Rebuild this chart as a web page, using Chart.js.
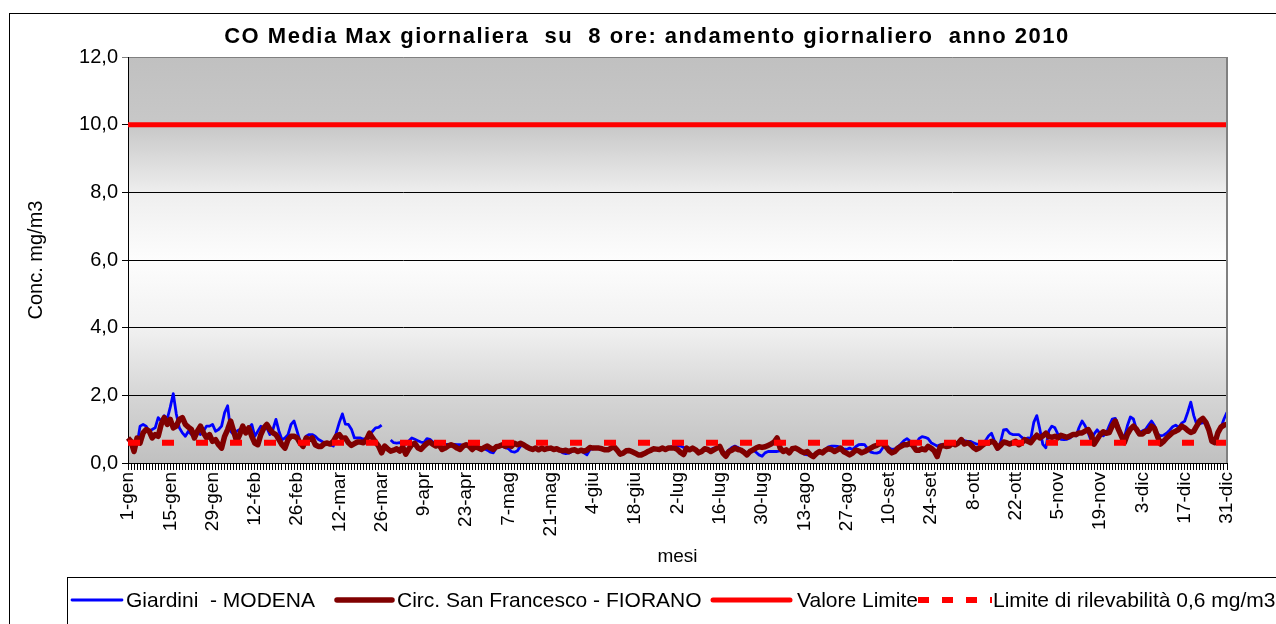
<!DOCTYPE html>
<html>
<head>
<meta charset="utf-8">
<title>CO Media Max giornaliera su 8 ore - 2010</title>
<script src="https://cdn.jsdelivr.net/npm/chart.js@4.4.0/dist/chart.umd.min.js"></script>
<style>
  html, body { margin: 0; padding: 0; background: #fff; }
</style>
</head>
<body>
<canvas id="coChart" width="1276" height="624"></canvas>
<script>
// Categories: every day of 2010, tick label shown every 14 days
const monthNames = ['gen', 'feb', 'mar', 'apr', 'mag', 'giu', 'lug', 'ago', 'set', 'ott', 'nov', 'dic'];
const monthDays = [31, 28, 31, 30, 31, 30, 31, 31, 30, 31, 30, 31];
const labelStep = 14;

const dayLabels = [];
monthNames.forEach((m, i) => {
  for (let d = 1; d <= monthDays[i]; d++) dayLabels.push(d + '-' + m);
});

// Giardini - MODENA (mg/m3), null = missing day
const giardini = [
  0.7, 0.6, 0.5, 0.54, 1.09, 1.14, 1.09, 0.94, 0.99, 1.04,
  1.34, 1.24, 1.4, 1.3, 1.65, 2.05, 1.45, 1.04, 0.89, 0.79,
  0.94, 0.84, 0.84, 0.94, 0.84, 0.94, 1.09, 1.09, 1.14, 0.94,
  0.99, 1.09, 1.49, 1.69, 0.94, 0.84, 0.94, 0.99, 1.04, 0.94,
  1.04, 1.14, 0.79, 0.94, 1.09, 0.99, 1.04, 0.84, 0.99, 1.29,
  0.94, 0.69, 0.74, 0.84, 1.14, 1.24, 0.94, 0.64, 0.59, 0.79,
  0.84, 0.84,
  0.79, 0.7, 0.65, 0.6, 0.57, 0.54, 0.5, 0.9, 1.2, 1.45,
  1.15, 1.14, 1.0, 0.74, 0.74, 0.74, 0.7, 0.74, 0.84, 0.94,
  1.04, 1.05, 1.12, null, null, 0.68, 0.6, 0.59, 0.6, 0.56,
  0.55, 0.65, 0.74, 0.7, 0.66, 0.62, 0.6, 0.72, 0.7, 0.62,
  0.6, 0.57, 0.56, 0.55, 0.55, 0.55, 0.55, 0.54, 0.54, 0.52,
  0.54, 0.54, 0.52, 0.5, 0.48, 0.45, 0.42, 0.38, 0.32, 0.3,
  0.45,
  0.48, 0.5, 0.45, 0.42, 0.34, 0.32, 0.36, 0.5, 0.52, 0.49,
  0.45, 0.42, 0.42, 0.4, 0.42, 0.4, 0.42, 0.42, 0.4, 0.4,
  0.36, 0.3, 0.28, 0.29, 0.34, 0.38, 0.34, 0.36, 0.3, 0.24,
  0.4, 0.42, 0.44, 0.42, 0.4, 0.38, 0.38, 0.42, 0.46, 0.4,
  0.3, 0.3, 0.34, 0.35, 0.32, 0.3, 0.26, 0.26, 0.3, 0.34,
  0.38, 0.4, 0.4, 0.42, 0.44, 0.42, 0.45, 0.48, 0.5, 0.52,
  0.5, 0.46,
  0.44, 0.42, 0.44, 0.4, 0.34, 0.36, 0.42, 0.42, 0.4, 0.44,
  0.44, 0.46, 0.34, 0.28, 0.38, 0.46, 0.5, 0.46, 0.4, 0.36,
  0.3, 0.36, 0.38, 0.32, 0.24, 0.2, 0.3, 0.34, 0.34, 0.34,
  0.34, 0.36, 0.36, 0.38, 0.34, 0.4, 0.42, 0.38, 0.32, 0.26,
  0.24, 0.24, 0.24, 0.3, 0.34, 0.32, 0.4, 0.48, 0.5, 0.5,
  0.49, 0.46, 0.42, 0.4, 0.44, 0.4, 0.48, 0.54, 0.55, 0.54,
  0.42,
  0.32, 0.3, 0.29, 0.32, 0.45, 0.5, 0.45, 0.4, 0.42, 0.48,
  0.56, 0.66, 0.72, 0.65, 0.45, 0.55, 0.72, 0.78, 0.76, 0.72,
  0.6, 0.55, 0.5, 0.54, 0.54, 0.54, 0.54, 0.54, 0.54, 0.62,
  0.69, 0.66, 0.64, 0.64, 0.6, 0.56, 0.56, 0.6, 0.66, 0.8,
  0.88, 0.65, 0.4, 0.62, 0.98, 0.99, 0.88, 0.84, 0.84, 0.84,
  0.76, 0.7, 0.74, 0.72, 1.2, 1.4, 1.0, 0.55, 0.45, 0.95,
  1.09,
  1.04, 0.85, 0.7, 0.69, 0.7, 0.74, 0.82, 0.8, 1.05, 1.24,
  1.1, 0.9, 0.66, 0.86, 0.98, 0.86, 0.8, 0.88, 1.1, 1.3,
  1.32, 1.09, 0.85, 0.76, 1.1, 1.36, 1.3, 1.0, 0.9, 0.95,
  0.99, 1.12, 1.24, 1.1, 0.86, 0.8, 0.82, 0.88, 0.97, 1.07,
  1.12, 1.05, 1.18, 1.24, 1.5, 1.8, 1.4, 1.14, 1.16, 1.19,
  1.19, 0.94, 0.68, 0.64, 0.84, 1.05, 1.3, 1.5
];

// Circ. San Francesco - FIORANO (mg/m3)
const fiorano = [
  0.74, 0.64, 0.34, 0.74, 0.59, 0.89, 0.99, 0.94, 0.74, 0.84,
  0.79, 1.14, 1.34, 1.14, 1.29, 1.04, 1.09, 1.29, 1.34, 1.14,
  1.06, 0.99, 0.74, 0.94, 1.09, 0.89, 0.74, 0.84, 0.64, 0.69,
  0.54, 0.44, 0.79, 0.99, 1.24, 0.94, 0.64, 0.84, 1.09, 0.89,
  1.04, 0.79, 0.59, 0.54, 0.84, 1.04, 1.14, 0.99, 0.89, 0.84,
  0.69, 0.54, 0.44, 0.69, 0.79, 0.79, 0.74, 0.59, 0.49, 0.74,
  0.69, 0.74,
  0.54, 0.49, 0.49, 0.57, 0.59, 0.56, 0.64, 0.79, 0.84, 0.72,
  0.74, 0.6, 0.52, 0.57, 0.62, 0.62, 0.6, 0.69, 0.88, 0.74,
  0.62, 0.5, 0.3, 0.5, 0.42, 0.35, 0.38, 0.42, 0.35, 0.48,
  0.26, 0.42, 0.54, 0.58, 0.45, 0.4, 0.5, 0.58, 0.62, 0.55,
  0.5, 0.54, 0.4, 0.44, 0.5, 0.54, 0.5, 0.44, 0.4, 0.5,
  0.54, 0.5, 0.4, 0.48, 0.45, 0.4, 0.46, 0.5, 0.44, 0.4,
  0.48,
  0.5, 0.54, 0.49, 0.54, 0.49, 0.58, 0.54, 0.58, 0.54, 0.48,
  0.43, 0.4, 0.44, 0.39, 0.44, 0.4, 0.43, 0.44, 0.4, 0.42,
  0.38, 0.36, 0.38, 0.34, 0.38, 0.39, 0.34, 0.38, 0.35, 0.38,
  0.46, 0.44, 0.44, 0.44, 0.42, 0.39, 0.39, 0.44, 0.48, 0.38,
  0.26, 0.29, 0.36, 0.37, 0.33, 0.29, 0.24, 0.24, 0.28, 0.33,
  0.37, 0.42, 0.41, 0.4, 0.44, 0.4, 0.44, 0.44, 0.44, 0.4,
  0.31, 0.25,
  0.44, 0.39, 0.44, 0.39, 0.3, 0.34, 0.42, 0.4, 0.34, 0.39,
  0.44, 0.49, 0.3, 0.2, 0.34, 0.38, 0.44, 0.4, 0.38, 0.32,
  0.24, 0.34, 0.39, 0.44, 0.48, 0.46, 0.48, 0.52, 0.56, 0.62,
  0.74, 0.44, 0.34, 0.39, 0.3, 0.42, 0.44, 0.4, 0.34, 0.3,
  0.34, 0.24, 0.19, 0.28, 0.34, 0.3, 0.38, 0.42, 0.4, 0.34,
  0.39, 0.44, 0.34, 0.29, 0.24, 0.29, 0.38, 0.36, 0.3, 0.34,
  0.39,
  0.44, 0.49, 0.52, 0.57, 0.57, 0.49, 0.37, 0.3, 0.34, 0.44,
  0.49, 0.54, 0.54, 0.58, 0.52, 0.38, 0.38, 0.42, 0.39, 0.49,
  0.44, 0.36, 0.19, 0.48, 0.52, 0.49, 0.5, 0.59, 0.54, 0.59,
  0.69, 0.56, 0.6, 0.55, 0.46, 0.4, 0.45, 0.52, 0.59, 0.59,
  0.64, 0.6, 0.44, 0.52, 0.62, 0.6, 0.56, 0.6, 0.64, 0.54,
  0.59, 0.69, 0.64, 0.6, 0.72, 0.82, 0.74, 0.8, 0.88, 0.78,
  0.76,
  0.79, 0.74, 0.82, 0.79, 0.76, 0.8, 0.84, 0.84, 0.89, 0.89,
  0.94, 0.99, 0.84, 0.56, 0.7, 0.84, 0.92, 0.88, 0.9, 1.1,
  1.24, 1.0, 0.8, 0.6, 0.85, 1.0, 1.09, 1.0, 0.86, 0.86,
  0.94, 0.94, 1.09, 1.02, 0.78, 0.56, 0.64, 0.74, 0.82, 0.9,
  0.94, 0.99, 1.09, 1.04, 0.96, 0.9, 0.94, 1.1, 1.25, 1.32,
  1.2, 0.98, 0.64, 0.6, 0.9, 1.06, 1.12, 1.14
];

// Reference thresholds (mg/m3)
const valoreLimite = 10.0;
const limiteRilevabilita = 0.6;
const limitLine = dayLabels.map(() => valoreLimite);
const detectionLine = dayLabels.map(() => limiteRilevabilita);

const seriesNames = ['Giardini  - MODENA', 'Circ. San Francesco - FIORANO', 'Valore Limite', 'Limite di rilevabilità 0,6 mg/m3'];
const chartTitle = 'CO Media Max giornaliera  su  8 ore: andamento giornaliero  anno 2010';

// Background gradient, frame, title and the boxed legend
const chartDecor = {
  id: 'chartDecor',
  beforeDraw(chart) {
    const { ctx, chartArea: a } = chart;
    ctx.save();
    ctx.fillStyle = '#ffffff';
    ctx.fillRect(0, 0, chart.width, chart.height);
    const g = ctx.createLinearGradient(0, a.top, 0, a.bottom);
    g.addColorStop(0, '#c0c0c0');
    g.addColorStop(0.17, '#c8c8c8');
    g.addColorStop(0.34, '#efefef');
    g.addColorStop(0.5, '#fdfdfd');
    g.addColorStop(0.66, '#f2f2f2');
    g.addColorStop(0.83, '#d6d6d6');
    g.addColorStop(1, '#c0c0c0');
    ctx.fillStyle = g;
    ctx.fillRect(a.left, a.top, a.width, a.height);
    ctx.restore();
  },
  afterDraw(chart) {
    const { ctx, chartArea: a } = chart;
    ctx.save();
    // outer frame
    ctx.strokeStyle = '#000';
    ctx.lineWidth = 1;
    ctx.strokeRect(9.5, 13.5, 1400, 700);
    // right edge of plot area
    ctx.strokeStyle = '#808080';
    ctx.lineWidth = 2;
    ctx.beginPath();
    ctx.moveTo(a.right, a.top);
    ctx.lineTo(a.right, a.bottom);
    ctx.stroke();
    // title
    ctx.fillStyle = '#000';
    ctx.font = 'bold 22px "Liberation Sans", Arial, sans-serif';
    ctx.letterSpacing = '1.5px';
    ctx.textAlign = 'center';
    ctx.textBaseline = 'middle';
    ctx.fillText(chartTitle, 647, 37);
    ctx.letterSpacing = '0px';
    // legend box
    ctx.strokeStyle = '#000';
    ctx.lineWidth = 1;
    ctx.strokeRect(67.5, 577.5, 1400, 100);
    const ly = 600;
    const items = [
      { x0: 72, x1: 122, tx: 126, ds: 0, dash: [] },
      { x0: 337, x1: 392, tx: 397, ds: 1, dash: [] },
      { x0: 713, x1: 790, tx: 797, ds: 2, dash: [] },
      { x0: 918, x1: 992, tx: 993, ds: 3, dash: [11, 13] }
    ];
    ctx.font = '21px "Liberation Sans", Arial, sans-serif';
    ctx.textAlign = 'left';
    items.forEach(it => {
      const ds = chart.data.datasets[it.ds];
      ctx.strokeStyle = ds.borderColor;
      ctx.lineWidth = ds.borderWidth;
      ctx.setLineDash(it.dash);
      ctx.lineCap = it.dash.length ? 'butt' : 'round';
      ctx.beginPath();
      ctx.moveTo(it.x0, ly);
      ctx.lineTo(it.x1, ly);
      ctx.stroke();
      ctx.setLineDash([]);
      ctx.fillStyle = '#000';
      ctx.fillText(ds.label, it.tx, ly + 1);
    });
    ctx.restore();
  }
};

const ctx = document.getElementById('coChart').getContext('2d');
const coChart = new Chart(ctx, {
  type: 'line',
  data: {
    labels: dayLabels,
    datasets: [
      {
        label: seriesNames[0],
        data: giardini,
        borderColor: '#0000ff',
        borderWidth: 2.8,
        pointRadius: 0,
        tension: 0,
        spanGaps: false,
        borderJoinStyle: 'round',
        order: 4
      },
      {
        label: seriesNames[1],
        data: fiorano,
        borderColor: '#800000',
        borderWidth: 5.5,
        pointRadius: 0,
        tension: 0,
        borderJoinStyle: 'round',
        order: 3
      },
      {
        label: seriesNames[2],
        data: limitLine,
        borderColor: '#ff0000',
        borderWidth: 5,
        pointRadius: 0,
        tension: 0,
        order: 2
      },
      {
        label: seriesNames[3],
        data: detectionLine,
        borderColor: '#ff0000',
        borderWidth: 6,
        borderDash: [12, 22],
        borderCapStyle: 'butt',
        pointRadius: 0,
        tension: 0,
        order: 1
      }
    ]
  },
  options: {
    responsive: false,
    animation: false,
    devicePixelRatio: 1,
    layout: {
      padding: { left: 10, top: 57, right: 49, bottom: 49 }
    },
    plugins: {
      legend: { display: false },
      title: { display: false },
      tooltip: { enabled: false }
    },
    scales: {
      x: {
        offset: false,
        grid: { drawOnChartArea: false, drawTicks: true, tickLength: 7, color: '#000' },
        border: { color: '#000' },
        ticks: {
          autoSkip: false,
          minRotation: 90,
          maxRotation: 90,
          padding: 2,
          color: '#000',
          font: { family: '"Liberation Sans", Arial, sans-serif', size: 19 },
          callback: (value, index) => index % labelStep === 0 ? dayLabels[index] : ''
        },
        title: {
          display: true,
          text: 'mesi',
          color: '#000',
          font: { family: '"Liberation Sans", Arial, sans-serif', size: 19 },
          padding: { top: 0, bottom: 7 }
        },
        afterFit: scale => { scale.height = 112; }
      },
      y: {
        min: 0,
        max: 12,
        grid: {
          color: c => c.tick && c.tick.value === 12 ? '#808080' : '#000',
          tickLength: 6,
          drawTicks: true
        },
        border: { color: '#000' },
        ticks: {
          stepSize: 2,
          padding: 4,
          color: '#000',
          font: { family: '"Liberation Sans", Arial, sans-serif', size: 20 },
          callback: v => v.toFixed(1).replace('.', ',')
        },
        title: {
          display: true,
          text: 'Conc. mg/m3',
          color: '#000',
          font: { family: '"Liberation Sans", Arial, sans-serif', size: 20 },
          padding: { top: 14, bottom: 0 }
        },
        afterFit: scale => { scale.width = 118; }
      }
    }
  },
  plugins: [chartDecor]
});
</script>
</body>
</html>
